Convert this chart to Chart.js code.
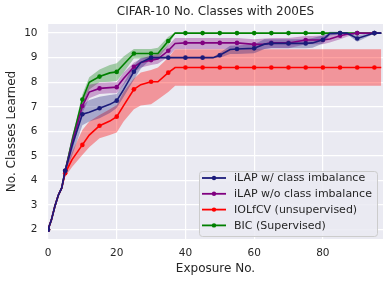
<!DOCTYPE html>
<html>
<head>
<meta charset="utf-8">
<script src="https://cdn.jsdelivr.net/npm/chart.js@4"></script>
<style>
  html, body { margin: 0; padding: 0; background: #fff; }
  #wrap { width: 389px; height: 284px; }
</style>
</head>
<body>
<div id="wrap"><canvas id="classesChart" width="389" height="284"></canvas></div>
<script>
// exposure numbers (x) shared by all series
const exposures = [0, 1, 2, 3, 4, 5, 7, 10, 12, 15, 18, 20, 22, 25, 27, 30, 32, 35, 37, 40, 45, 48, 50, 53, 55, 60, 63, 65, 70, 75, 77, 80, 82, 85, 87, 90, 95, 97];

const ilapImbal      = [2.0, 2.4, 2.95, 3.4, 3.7, 4.4, 5.4, 6.7, 6.78, 6.94, 7.1, 7.25, 7.7, 8.43, 8.8, 9.0, 9.0, 9.0, 9.0, 9.0, 9.0, 9.0, 9.1, 9.33, 9.35, 9.38, 9.55, 9.58, 9.58, 9.58, 9.6, 9.73, 9.98, 10.0, 10.0, 9.78, 10.0, 10.0];
const ilapImbalHi    = [2.02, 2.43, 2.98, 3.45, 3.78, 4.5, 5.8, 7.05, 7.28, 7.41, 7.48, 7.52, 7.95, 8.7, 9.0, 9.05, 9.02, 9.02, 9.02, 9.02, 9.02, 9.02, 9.2, 9.48, 9.5, 9.55, 9.75, 9.75, 9.75, 9.75, 9.8, 9.9, 10.05, 10.05, 10.03, 9.92, 10.02, 10.02];
const ilapImbalLo    = [1.98, 2.37, 2.92, 3.35, 3.62, 4.3, 5.0, 6.25, 6.4, 6.53, 6.75, 6.95, 7.4, 8.1, 8.55, 8.95, 8.98, 8.98, 8.98, 8.98, 8.98, 8.98, 9.0, 9.15, 9.15, 9.18, 9.35, 9.38, 9.38, 9.38, 9.4, 9.58, 9.9, 9.95, 9.95, 9.65, 9.98, 9.98];

const ilapNoImbal    = [2.0, 2.4, 2.95, 3.4, 3.7, 4.4, 5.5, 7.03, 7.6, 7.75, 7.78, 7.8, 8.15, 8.63, 8.8, 8.9, 8.95, 9.28, 9.58, 9.6, 9.6, 9.6, 9.6, 9.6, 9.6, 9.54, 9.55, 9.6, 9.6, 9.72, 9.72, 9.72, 9.76, 9.89, 9.95, 10.0, 10.0, 10.0];
const ilapNoImbalHi  = [2.02, 2.43, 2.98, 3.45, 3.78, 4.5, 5.8, 7.3, 7.9, 7.98, 8.0, 8.0, 8.4, 8.8, 8.95, 9.1, 9.15, 9.5, 9.8, 9.8, 9.8, 9.8, 9.8, 9.8, 9.8, 9.75, 9.78, 9.8, 9.8, 9.88, 9.88, 9.9, 9.92, 10.0, 10.02, 10.02, 10.0, 10.0];
const ilapNoImbalLo  = [1.98, 2.37, 2.92, 3.35, 3.62, 4.3, 5.2, 6.75, 7.35, 7.52, 7.55, 7.55, 7.9, 8.4, 8.6, 8.7, 8.75, 9.04, 9.35, 9.35, 9.35, 9.35, 9.35, 9.35, 9.35, 9.3, 9.35, 9.38, 9.38, 9.55, 9.55, 9.55, 9.62, 9.75, 9.85, 9.98, 10.0, 10.0];

const iolfcv         = [2.0, 2.4, 2.95, 3.4, 3.7, 4.3, 4.85, 5.45, 5.85, 6.23, 6.42, 6.6, 7.05, 7.71, 7.9, 8.02, 8.02, 8.39, 8.6, 8.6, 8.6, 8.6, 8.6, 8.6, 8.6, 8.6, 8.6, 8.6, 8.6, 8.6, 8.6, 8.6, 8.6, 8.6, 8.6, 8.6, 8.6, 8.6];
const iolfcvHi       = [2.02, 2.43, 2.98, 3.45, 3.75, 4.45, 5.15, 6.06, 6.4, 6.67, 6.9, 7.07, 7.6, 8.15, 8.4, 8.5, 8.6, 9.0, 9.34, 9.34, 9.34, 9.34, 9.34, 9.34, 9.34, 9.34, 9.34, 9.34, 9.34, 9.34, 9.34, 9.34, 9.34, 9.34, 9.34, 9.34, 9.34, 9.34];
const iolfcvLo       = [1.98, 2.37, 2.92, 3.35, 3.65, 4.15, 4.55, 5.04, 5.35, 5.72, 5.85, 5.95, 6.4, 6.9, 7.05, 7.1, 7.3, 7.6, 7.86, 7.86, 7.86, 7.86, 7.86, 7.86, 7.86, 7.86, 7.86, 7.86, 7.86, 7.86, 7.86, 7.86, 7.86, 7.86, 7.86, 7.86, 7.86, 7.86];

const bic            = [2.0, 2.4, 2.95, 3.4, 3.7, 4.4, 5.6, 7.3, 8.0, 8.23, 8.38, 8.42, 8.72, 9.17, 9.17, 9.17, 9.17, 9.68, 10.0, 10.0, 10.0, 10.0, 10.0, 10.0, 10.0, 10.0, 10.0, 10.0, 10.0, 10.0, 10.0, 10.0, 10.0, 10.0, 10.0, 10.0, 10.0, 10.0];
const bicHi          = [2.02, 2.43, 2.98, 3.45, 3.78, 4.5, 5.75, 7.5, 8.2, 8.52, 8.7, 8.77, 9.05, 9.35, 9.35, 9.35, 9.4, 9.85, 10.02, 10.0, 10.0, 10.0, 10.0, 10.0, 10.0, 10.0, 10.0, 10.0, 10.0, 10.0, 10.0, 10.0, 10.0, 10.0, 10.0, 10.0, 10.0, 10.0];
const bicLo          = [1.98, 2.37, 2.92, 3.35, 3.62, 4.3, 5.45, 7.05, 7.7, 8.0, 8.02, 8.05, 8.4, 8.97, 8.97, 8.97, 8.97, 9.5, 9.98, 10.0, 10.0, 10.0, 10.0, 10.0, 10.0, 10.0, 10.0, 10.0, 10.0, 10.0, 10.0, 10.0, 10.0, 10.0, 10.0, 10.0, 10.0, 10.0];

const xTicks = [0, 20, 40, 60, 80];
const yTicks = [2, 3, 4, 5, 6, 7, 8, 9, 10];

const series = [
  { label: 'iLAP w/ class imbalance',   mid: ilapImbal,   hi: ilapImbalHi,   lo: ilapImbalLo,   color: '#1b1b7a', band: 'rgba(27,27,122,0.32)' },
  { label: 'iLAP w/o class imbalance',  mid: ilapNoImbal, hi: ilapNoImbalHi, lo: ilapNoImbalLo, color: '#800080', band: 'rgba(128,0,128,0.32)' },
  { label: 'IOLfCV (unsupervised)',     mid: iolfcv,      hi: iolfcvHi,      lo: iolfcvLo,      color: '#ff0000', band: 'rgba(255,0,0,0.36)' },
  { label: 'BIC (Supervised)',          mid: bic,         hi: bicHi,         lo: bicLo,         color: '#008000', band: 'rgba(0,128,0,0.32)' }
];

const pts = arr => arr.map((v, i) => ({ x: exposures[i], y: v }));
const markEvery5 = ctx => (exposures[ctx.dataIndex] % 5 === 0 ? 2.3 : 0);

const datasets = [];
series.forEach(s => {
  datasets.push({ data: pts(s.hi), borderWidth: 0, pointRadius: 0, fill: '+1', backgroundColor: s.band, tension: 0 });
  datasets.push({ data: pts(s.lo), borderWidth: 0, pointRadius: 0, fill: false });
});
series.forEach(s => {
  datasets.push({
    label: s.label, data: pts(s.mid), borderColor: s.color, backgroundColor: s.color,
    borderWidth: 1.6, pointRadius: markEvery5, pointHoverRadius: 0, pointBorderWidth: 0, fill: false
  });
});

const bgPlugin = {
  id: 'bg',
  beforeDraw(chart) {
    const { ctx, chartArea: a } = chart;
    ctx.save();
    ctx.fillStyle = '#eaeaf2';
    ctx.fillRect(a.left, a.top, a.right - a.left, a.bottom - a.top);
    ctx.restore();
  }
};

const legendPlugin = {
  id: 'boxLegend',
  afterDraw(chart) {
    const ctx = chart.ctx;
    const x = 199, y = 171, w = 178, h = 65;
    ctx.save();
    ctx.beginPath();
    ctx.roundRect(x + 0.5, y + 0.5, w, h, 3);
    ctx.fillStyle = 'rgba(234,234,242,0.85)';
    ctx.fill();
    ctx.strokeStyle = '#cccccc';
    ctx.lineWidth = 1;
    ctx.stroke();
    ctx.font = '11px "DejaVu Sans"';
    ctx.textBaseline = 'middle';
    series.forEach((s, i) => {
      const ry = 178 + i * 15.8;
      ctx.strokeStyle = s.color;
      ctx.lineWidth = 1.8;
      ctx.beginPath();
      ctx.moveTo(202, ry);
      ctx.lineTo(226, ry);
      ctx.stroke();
      ctx.fillStyle = s.color;
      ctx.beginPath();
      ctx.arc(214, ry, 2.2, 0, Math.PI * 2);
      ctx.fill();
      ctx.fillStyle = '#262626';
      ctx.fillText(s.label, 234, ry + 0.5);
    });
    ctx.restore();
  }
};

new Chart(document.getElementById('classesChart'), {
  type: 'line',
  data: { datasets },
  plugins: [bgPlugin, legendPlugin],
  options: {
    responsive: false,
    animation: false,
    events: [],
    layout: { padding: { left: 0, right: 6, top: 0, bottom: 0 } },
    elements: { line: { tension: 0 } },
    plugins: {
      legend: { display: false },
      tooltip: { enabled: false },
      filler: { drawTime: 'beforeDatasetsDraw' },
      title: {
        display: true,
        fullSize: false,
        text: 'CIFAR-10 No. Classes with 200ES',
        color: '#262626',
        font: { family: 'DejaVu Sans', size: 12, weight: 'normal', lineHeight: 1.2 },
        padding: { top: 5, bottom: 4.6 }
      }
    },
    scales: {
      x: {
        type: 'linear', min: 0, max: 97.5,
        afterBuildTicks: s => { s.ticks = xTicks.map(v => ({ value: v })); },
        afterFit: s => { s.height = 45; },
        grid: { color: '#ffffff', lineWidth: 1.2, drawTicks: false },
        border: { display: false },
        ticks: { color: '#262626', padding: 7.5, font: { family: 'DejaVu Sans', size: 10.5 } },
        title: { display: true, text: 'Exposure No.', color: '#262626', font: { family: 'DejaVu Sans', size: 12, lineHeight: 1.2 }, padding: { top: 0, bottom: 7.8 } }
      },
      y: {
        type: 'linear', min: 1.62, max: 10.37,
        afterBuildTicks: s => { s.ticks = yTicks.map(v => ({ value: v })); },
        afterFit: s => { s.width = 48; },
        grid: { color: '#ffffff', lineWidth: 1.2, drawTicks: false },
        border: { display: false },
        ticks: { color: '#262626', padding: 10.5, font: { family: 'DejaVu Sans', size: 10.5 } },
        title: { display: true, text: 'No. Classes Learned', color: '#262626', font: { family: 'DejaVu Sans', size: 12, lineHeight: 1.2 }, padding: { top: 5, bottom: 0 } }
      }
    }
  }
});
</script>
</body>
</html>
